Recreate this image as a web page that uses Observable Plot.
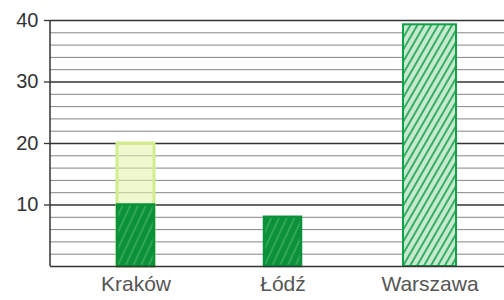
<!DOCTYPE html>
<html><head><meta charset="utf-8">
<script src="https://cdn.jsdelivr.net/npm/d3@7"></script>
<script src="https://cdn.jsdelivr.net/npm/@observablehq/plot@0.6"></script>
<style>
html,body{margin:0;padding:0;background:#fff;}
svg{font-family:"Liberation Sans",Arial,sans-serif;}
</style>
</head><body>
<div id="chart"></div>
<script>
const cities = ["Kraków", "Łódź", "Warszawa"];
const values = [10, 8, 39.3];
const ghostCity = ["Kraków"];
const ghostValue = [20];
const yTicks = [10, 20, 30, 40];
const minorLines = [2, 4, 6, 8, 12, 14, 16, 18, 22, 24, 26, 28, 32, 34, 36, 38];
const majorLines = [10, 20, 30, 40];

const data = cities.map((c, i) => ({city: c, value: values[i]}));
const ghost = ghostCity.map((c, i) => ({city: c, value: ghostValue[i]}));
const narrow = data.filter(d => d.city !== "Warszawa");
const wide = data.filter(d => d.city === "Warszawa");

const chart = Plot.plot({
  width: 504,
  height: 300,
  marginLeft: 50,
  marginRight: 0,
  marginTop: 20,
  marginBottom: 34,
  style: {background: "#fff", fontFamily: "Liberation Sans, Arial, sans-serif"},
  x: {domain: cities, paddingInner: 0.75, paddingOuter: 0.414, align: 0.545, label: null},
  y: {domain: [0, 40], label: null},
  marks: [
    Plot.ruleY(minorLines, {stroke: "#777", strokeWidth: 0.9}),
    Plot.ruleY(majorLines, {stroke: "#333", strokeWidth: 1.3}),
    Plot.barY(ghost, {x: "city", y: "value", fill: "#e3f3a8", fillOpacity: 0.55, stroke: "#d2ee8c", strokeWidth: 3}),
    Plot.barY(narrow, {x: "city", y: "value", fill: "url(#hatchDark)", stroke: "#0a9239", strokeWidth: 2.5}),
    Plot.barY(wide, {x: "city", y: "value", fill: "url(#hatchLight)", stroke: "#12a048", strokeWidth: 2, insetLeft: -8, insetRight: -8}),
    Plot.ruleY([0], {stroke: "#333", strokeWidth: 1.5}),
    Plot.axisY(yTicks, {tickSize: 6, tickPadding: 6, fontSize: 20, fill: "#333", stroke: "#333", strokeWidth: 1.3}),
    Plot.axisX({tickSize: 0, tickPadding: 10, fontSize: 21, fill: "#555"})
  ]
});

const svg = d3.select(chart);
const defs = svg.insert("defs", ":first-child");
const p1 = defs.append("pattern").attr("id", "hatchDark").attr("patternUnits", "userSpaceOnUse")
  .attr("width", 7).attr("height", 7).attr("patternTransform", "rotate(25)");
p1.append("rect").attr("width", 7).attr("height", 7).attr("fill", "#0b9139");
p1.append("line").attr("x1", 2).attr("y1", 0).attr("x2", 2).attr("y2", 7).attr("stroke", "#4fb86e").attr("stroke-width", 1.1);
const p2 = defs.append("pattern").attr("id", "hatchLight").attr("patternUnits", "userSpaceOnUse")
  .attr("width", 6).attr("height", 6).attr("patternTransform", "rotate(30)");
p2.append("rect").attr("width", 6).attr("height", 6).attr("fill", "#c6e9cf");
p2.append("line").attr("x1", 2).attr("y1", 0).attr("x2", 2).attr("y2", 6).attr("stroke", "#13a04a").attr("stroke-width", 1.6);

const yScale = chart.scale("y");
svg.append("line").attr("x1", 50).attr("x2", 50)
  .attr("y1", yScale.apply(40)).attr("y2", yScale.apply(0))
  .attr("stroke", "#333").attr("stroke-width", 1.5);

document.getElementById("chart").appendChild(chart);
</script>
</body></html>
